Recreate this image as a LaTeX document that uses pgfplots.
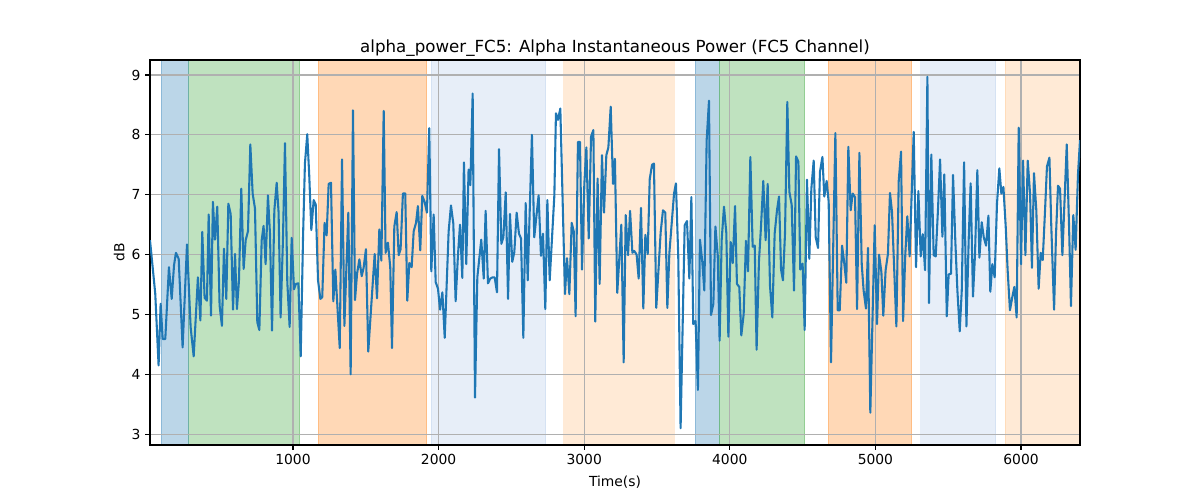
\documentclass[border=0pt]{standalone}
\usepackage{pgfplots}
\pgfplotsset{compat=1.18}
\usepackage{fontspec}
\setmainfont{DejaVu Sans}
\definecolor{tabblue}{HTML}{1F77B4}
\definecolor{tabgreen}{HTML}{2CA02C}
\definecolor{taborange}{HTML}{FF7F0E}
\definecolor{tablightblue}{HTML}{AEC7E8}
\definecolor{tablightorange}{HTML}{FFBB78}
\definecolor{gridgray}{HTML}{B0B0B0}
\begin{document}
\begin{tikzpicture}
\begin{axis}[
  name=ax,
  set layers,
  scale only axis,
  width=697.5pt, height=288.75pt,
  xmin=18, xmax=6405, ymin=2.82, ymax=9.25,
  xtick={1000,2000,3000,4000,5000,6000},
  ytick={3,4,5,6,7,8,9},
  tick pos=left,
  tick align=outside,
  major tick length=3.65pt,
  every tick/.style={black, line width=0.83pt},
  axis line style={line width=0.83pt},
  grid=major,
  major grid style={gridgray, line width=0.83pt},
  /pgf/number format/assume math mode=true,
  /pgf/number format/1000 sep={},
  tick label style={font=\fontsize{10.4}{12}\selectfont},
  label style={font=\fontsize{10.4}{12}\selectfont},
  xlabel={Time(s)},
  ylabel={dB},
  title={alpha\_power\_FC5: Alpha Instantaneous Power (FC5 Channel)},
  title style={font=\fontsize{12.5}{15}\selectfont, at={(axis description cs:0.5,1)}, anchor=south, inner sep=0pt, yshift=-3.5pt},
  xlabel style={at={(axis description cs:0.5,0)}, anchor=north, inner sep=0pt, yshift=-23pt},
  ylabel style={at={(axis description cs:-0.027,0.5)}, anchor=south, inner sep=0pt},
  span/.style={on layer=axis background, draw=#1, fill=#1, opacity=0.3, line width=0.75pt},
]
% shaded spans
\addplot[span=tabblue] coordinates {(95,2.82) (95,9.25) (284,9.25) (284,2.82)} -- cycle;
\addplot[span=tabgreen] coordinates {(284,2.82) (284,9.25) (1046,9.25) (1046,2.82)} -- cycle;
\addplot[span=taborange] coordinates {(1172,2.82) (1172,9.25) (1920,9.25) (1920,2.82)} -- cycle;
\addplot[span=tablightblue] coordinates {(1948,2.82) (1948,9.25) (2735,9.25) (2735,2.82)} -- cycle;
\addplot[span=tablightorange] coordinates {(2861,2.82) (2861,9.25) (3617,9.25) (3617,2.82)} -- cycle;
\addplot[span=tabblue] coordinates {(3761,2.82) (3761,9.25) (3928,9.25) (3928,2.82)} -- cycle;
\addplot[span=tabgreen] coordinates {(3928,2.82) (3928,9.25) (4514,9.25) (4514,2.82)} -- cycle;
\addplot[span=taborange] coordinates {(4675,2.82) (4675,9.25) (5249,9.25) (5249,2.82)} -- cycle;
\addplot[span=tablightblue] coordinates {(5313,2.82) (5313,9.25) (5826,9.25) (5826,2.82)} -- cycle;
\addplot[span=tablightorange] coordinates {(5890,2.82) (5890,9.25) (6405,9.25) (6405,2.82)} -- cycle;
% signal
\addplot[tabblue, line width=1.56pt, mark=none, line join=round] table {
18 6.24
54 5.35
77 4.15
91 5.18
105 4.59
123 4.59
148 5.79
167 5.26
183 5.82
196 6.03
215 5.93
242 4.45
272 6.17
297 4.79
318 4.30
347 5.62
364 4.90
377 6.38
393 5.28
409 5.23
421 6.67
437 4.98
450 6.88
464 6.25
480 6.80
496 5.15
512 4.81
526 6.10
542 5.26
556 6.85
572 6.68
588 5.08
602 6.01
615 5.09
629 5.57
645 7.10
661 5.76
675 6.24
691 6.39
707 7.84
723 7.02
739 6.77
755 4.87
769 4.74
785 6.24
798 6.48
812 5.84
828 6.99
842 6.35
856 4.73
872 6.74
888 7.20
901 6.71
915 4.95
931 6.24
945 7.86
961 5.54
977 4.79
991 6.28
1007 5.42
1020 5.51
1037 5.52
1053 4.30
1069 6.29
1082 7.52
1098 8.01
1112 7.30
1126 6.41
1142 6.91
1156 6.84
1172 5.57
1188 5.26
1201 5.29
1217 6.53
1231 6.32
1245 7.18
1261 7.20
1277 5.22
1291 5.75
1321 4.44
1337 7.59
1353 4.81
1380 6.70
1396 4.00
1412 8.41
1426 5.24
1440 5.68
1456 5.92
1472 5.64
1485 5.78
1501 6.09
1517 4.38
1533 4.98
1561 6.01
1577 5.27
1593 6.42
1607 5.90
1623 8.40
1636 6.03
1652 6.20
1668 5.79
1680 4.44
1696 6.47
1712 6.71
1726 5.99
1739 6.09
1755 7.02
1771 7.02
1785 5.23
1799 5.86
1815 5.79
1829 6.39
1845 6.53
1858 6.81
1874 6.07
1888 6.98
1904 6.88
1920 6.70
1936 8.11
1950 5.72
1966 6.67
1980 5.54
1996 5.43
2010 5.08
2026 5.37
2042 4.61
2069 6.39
2085 6.82
2101 6.52
2117 5.22
2133 5.99
2147 6.50
2163 5.61
2174 7.54
2190 5.84
2206 7.42
2218 7.16
2234 8.69
2250 3.61
2266 5.62
2293 6.25
2310 5.60
2323 6.73
2339 5.52
2355 5.60
2371 5.62
2385 5.62
2401 5.37
2415 7.76
2431 6.18
2445 6.29
2461 7.04
2477 5.26
2490 6.68
2506 5.88
2520 6.04
2536 6.70
2552 6.35
2566 6.27
2582 4.61
2598 6.86
2612 5.57
2641 8.00
2657 6.29
2673 6.67
2687 6.99
2703 5.98
2717 6.35
2733 5.09
2747 6.91
2763 5.57
2795 6.99
2806 8.36
2820 8.25
2836 8.44
2868 5.34
2882 5.94
2898 5.34
2914 6.53
2928 6.39
2941 4.97
2957 7.88
2971 7.88
2985 5.75
3001 7.18
3015 7.79
3031 6.27
3047 7.97
3063 8.08
3076 4.88
3092 7.27
3106 5.51
3122 7.66
3136 6.70
3152 7.66
3166 7.79
3182 8.47
3198 7.18
3211 7.60
3227 5.36
3255 6.50
3271 4.20
3285 6.66
3301 5.99
3315 6.73
3331 6.03
3344 6.06
3360 6.00
3374 5.60
3390 6.78
3406 5.10
3420 6.33
3436 6.01
3450 7.26
3466 7.50
3479 7.52
3495 5.11
3525 6.37
3541 6.74
3557 6.70
3571 5.11
3585 6.03
3617 7.02
3630 7.19
3646 5.96
3662 3.10
3690 6.49
3706 6.56
3722 5.60
3736 6.96
3749 4.84
3765 4.89
3781 3.74
3795 6.25
3811 5.88
3825 5.40
3841 7.91
3857 8.57
3871 4.99
3887 5.18
3901 6.47
3917 5.99
3930 4.56
3944 6.24
3960 6.80
3976 6.36
3990 4.63
4006 6.21
4020 5.86
4036 6.81
4049 5.51
4065 5.46
4079 4.65
4095 5.00
4111 6.23
4125 5.72
4141 7.63
4157 6.13
4171 6.15
4184 4.41
4200 5.88
4214 6.46
4230 7.23
4246 6.24
4260 7.18
4276 5.48
4292 4.95
4308 6.35
4324 6.74
4338 6.97
4352 5.75
4365 5.57
4379 6.35
4395 8.55
4409 7.05
4425 6.83
4441 5.40
4455 7.64
4471 7.55
4484 5.75
4500 5.85
4514 4.74
4530 7.25
4546 5.93
4560 7.10
4576 7.57
4590 6.29
4606 6.11
4619 7.38
4636 7.63
4649 6.97
4665 7.23
4679 6.88
4695 4.20
4725 8.03
4741 5.07
4755 5.07
4771 6.15
4784 5.90
4800 5.53
4814 7.80
4830 6.74
4844 7.02
4860 6.96
4874 5.09
4890 7.70
4906 5.84
4919 5.40
4935 5.10
4949 6.11
4965 3.36
4995 6.49
5011 4.84
5025 6.00
5041 5.71
5054 4.98
5070 5.74
5086 6.01
5100 7.03
5114 6.71
5144 4.80
5160 7.23
5176 7.72
5190 4.89
5205 5.99
5219 6.64
5235 5.97
5263 8.05
5279 5.79
5295 7.06
5311 5.97
5325 6.34
5341 5.74
5357 8.97
5368 5.19
5384 7.67
5400 5.99
5414 5.97
5430 6.77
5444 7.59
5460 6.30
5473 7.34
5490 4.97
5503 5.67
5519 5.68
5533 7.33
5549 6.21
5563 5.40
5579 4.72
5593 5.40
5609 7.54
5625 4.80
5641 6.29
5654 7.19
5670 5.30
5684 6.01
5700 7.41
5714 5.95
5730 6.54
5744 6.29
5760 6.15
5776 6.65
5789 5.38
5803 5.84
5819 5.62
5835 6.85
5851 7.44
5865 7.02
5879 7.13
5895 6.46
5908 5.74
5924 5.07
5940 5.29
5954 5.46
5970 4.95
5984 8.12
6000 5.84
6014 7.57
6030 5.99
6046 7.57
6062 7.02
6075 5.78
6089 7.36
6105 6.74
6121 5.43
6135 6.03
6149 5.91
6165 6.74
6178 7.47
6195 7.62
6208 6.46
6227 5.08
6240 6.32
6254 7.15
6268 7.10
6284 5.99
6314 7.84
6330 6.46
6343 5.14
6359 6.66
6375 6.08
6391 7.33
6405 7.91
};
\end{axis}
\path ([shift={(-112.5pt,-41.25pt)}]ax.south west) rectangle ([shift={(787.5pt,333.75pt)}]ax.south west);
\end{tikzpicture}
\end{document}
